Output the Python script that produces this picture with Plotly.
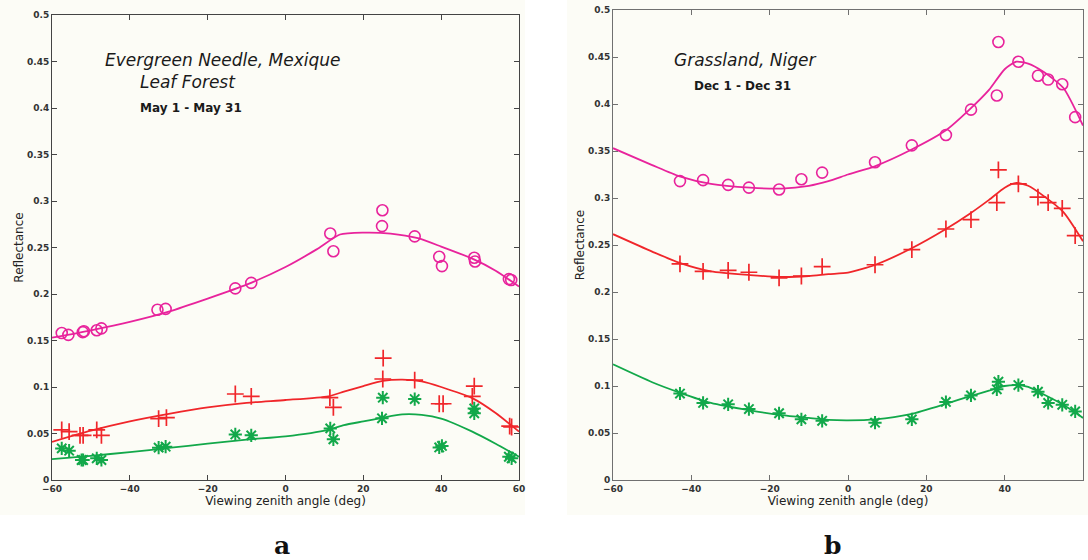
import plotly.graph_objects as go

# ---------------- Panel a: Evergreen Needle, Leaf Forest (Mexique) ----------------
a_circ_x = [-57.5, -55.8, -52.1, -51.8, -48.5, -47.3, -32.9, -30.8, -12.9, -8.8,
            11.5, 12.3, 24.9, 24.8, 33.2, 39.5, 40.2, 48.5, 48.7, 57.4, 58.0]
a_circ_y = [0.158, 0.156, 0.159, 0.160, 0.161, 0.163, 0.183, 0.184, 0.206, 0.212,
            0.265, 0.246, 0.290, 0.273, 0.262, 0.240, 0.230, 0.239, 0.235, 0.216, 0.215]

a_plus_x = [-57.5, -55.6, -52.8, -52.0, -48.5, -47.3, -32.6, -30.6, -12.9, -8.8,
            11.4, 12.3, 25.1, 25.0, 33.2, 39.5, 40.5, 48.5, 48.0, 57.6, 58.1]
a_plus_y = [0.054, 0.052, 0.048, 0.048, 0.054, 0.048, 0.066, 0.067, 0.0925, 0.090,
            0.0885, 0.078, 0.131, 0.1086, 0.1075, 0.082, 0.082, 0.101, 0.090, 0.058, 0.057]

a_star_x = [-57.5, -55.6, -52.4, -52.0, -48.5, -47.3, -32.6, -30.8, -12.9, -8.8,
            11.5, 12.3, 25.0, 24.8, 33.2, 39.5, 40.2, 48.5, 48.5, 57.4, 58.1]
a_star_y = [0.034, 0.0315, 0.0215, 0.0215, 0.0233, 0.0215, 0.0348, 0.0358, 0.049, 0.048,
            0.0555, 0.0437, 0.0885, 0.0663, 0.087, 0.035, 0.0366, 0.077, 0.0717, 0.025, 0.0233]

a_fit_x = [-60, -50, -40, -30, -20, -10, 0, 8, 14, 20, 27, 34, 40, 48, 54, 60]
a_fit_mag = [0.153, 0.161, 0.170, 0.181, 0.195, 0.210, 0.229, 0.248, 0.264, 0.266,
             0.265, 0.260, 0.251, 0.238, 0.225, 0.208]
a_fit_x2 = [-60, -50, -40, -30, -20, -10, 0, 11, 15, 20, 25, 30, 35, 40, 48, 54, 60]
a_fit_red = [0.041, 0.053, 0.063, 0.071, 0.078, 0.083, 0.086, 0.090, 0.095, 0.101,
             0.1065, 0.108, 0.106, 0.100, 0.088, 0.072, 0.052]
a_fit_grn = [0.0225, 0.026, 0.030, 0.0345, 0.039, 0.0435, 0.047, 0.054, 0.059, 0.063,
             0.067, 0.0705, 0.070, 0.066, 0.052, 0.039, 0.025]

# ---------------- Panel b: Grassland, Niger ----------------
b_x = [-42.9, -37.0, -30.6, -25.3, -17.6, -11.9, -6.6, 6.9, 16.3, 25.0, 31.4,
       38.0, 38.4, 43.5, 48.5, 51.1, 54.7, 58.0]
b_circ_y = [0.318, 0.319, 0.314, 0.311, 0.309, 0.320, 0.327, 0.338, 0.356, 0.367, 0.394,
            0.409, 0.466, 0.445, 0.430, 0.426, 0.421, 0.386]
b_plus_y = [0.230, 0.222, 0.223, 0.221, 0.215, 0.217, 0.227, 0.229, 0.245, 0.267, 0.277,
            0.295, 0.330, 0.315, 0.301, 0.295, 0.289, 0.260]
b_star_y = [0.092, 0.082, 0.0805, 0.0755, 0.071, 0.0645, 0.063, 0.061, 0.0645, 0.083, 0.090,
            0.0965, 0.1046, 0.101, 0.094, 0.082, 0.080, 0.073]

b_fit_x = [-60, -50, -43, -35, -25, -17, -10, -5, 0, 7, 16, 25, 31, 36, 40, 43, 46, 50, 55, 60]
b_fit_mag = [0.353, 0.335, 0.323, 0.315, 0.311, 0.310, 0.313, 0.318, 0.325, 0.334, 0.351,
             0.372, 0.394, 0.415, 0.437, 0.445, 0.443, 0.434, 0.417, 0.377]
b_fit_red = [0.2615, 0.243, 0.231, 0.222, 0.218, 0.216, 0.217, 0.219, 0.2205, 0.229, 0.246,
             0.267, 0.283, 0.298, 0.311, 0.316, 0.313, 0.302, 0.285, 0.254]
b_fit_grn = [0.123, 0.104, 0.093, 0.082, 0.074, 0.069, 0.066, 0.064, 0.0635, 0.0645, 0.070,
             0.081, 0.089, 0.095, 0.100, 0.101, 0.099, 0.091, 0.080, 0.066]

x_ticks = [-60, -40, -20, 0, 20, 40, 60]
y_ticks = [0, 0.05, 0.1, 0.15, 0.2, 0.25, 0.3, 0.35, 0.4, 0.45, 0.5]
y_tick_text = ["0", "0.05", "0.1", "0.15", "0.2", "0.25", "0.3", "0.35", "0.4", "0.45", "0.5"]

MAG = "#e8239c"
RED = "#f0262a"
GRN = "#12a84a"
PANEL_BG = "#fcfcf6"

fig = go.Figure()


def add_panel(xa, ya, cx, cy, px, py, sx, sy, fx_m, fm, fx_r, fr, fx_g, fg):
    for fx, fy, col in ((fx_m, fm, MAG), (fx_r, fr, RED), (fx_g, fg, GRN)):
        fig.add_trace(go.Scatter(x=fx, y=fy, mode="lines",
                                 line=dict(color=col, width=1.8, shape="spline", smoothing=0.6),
                                 xaxis=xa, yaxis=ya, showlegend=False))
    fig.add_trace(go.Scatter(x=cx, y=cy, mode="markers",
                             marker=dict(symbol="circle-open", size=11, color=MAG, line=dict(width=1.6, color=MAG)),
                             xaxis=xa, yaxis=ya, showlegend=False))
    fig.add_trace(go.Scatter(x=px, y=py, mode="markers",
                             marker=dict(symbol="cross-thin-open", size=12, color=RED, line=dict(width=1.7, color=RED)),
                             xaxis=xa, yaxis=ya, showlegend=False))
    fig.add_trace(go.Scatter(x=sx, y=sy, mode="markers",
                             marker=dict(symbol="asterisk-open", size=11, color=GRN, line=dict(width=2, color=GRN)),
                             xaxis=xa, yaxis=ya, showlegend=False))


add_panel("x", "y", a_circ_x, a_circ_y, a_plus_x, a_plus_y, a_star_x, a_star_y,
          a_fit_x, a_fit_mag, a_fit_x2, a_fit_red, a_fit_x2, a_fit_grn)
add_panel("x2", "y2", b_x, b_circ_y, b_x, b_plus_y, b_x, b_star_y,
          b_fit_x, b_fit_mag, b_fit_x, b_fit_red, b_fit_x, b_fit_grn)


def axis_style(line_col, is_x):
    tick_font = dict(family="DejaVu Sans", size=9, color="#333333", weight="bold")
    title_font = dict(family="DejaVu Sans", size=12, color="#222222")
    d = dict(ticks="inside", ticklen=5, tickcolor=line_col, showline=True, linecolor=line_col,
             linewidth=1, mirror="ticks", showgrid=False, zeroline=False, tickfont=tick_font,
             automargin=False)
    if is_x:
        d.update(range=[-60, 60], tickvals=x_ticks,
                 title=dict(text="Viewing zenith angle (deg)", font=title_font, standoff=0))
    else:
        d.update(range=[0, 0.5], tickvals=y_ticks, ticktext=y_tick_text,
                 title=dict(text="Reflectance", font=title_font, standoff=0))
    return d


fig.update_layout(
    width=1088, height=560,
    margin=dict(l=0, r=0, t=0, b=0),
    paper_bgcolor="white",
    plot_bgcolor="rgba(0,0,0,0)",
    xaxis=dict(domain=[52 / 1088, 519 / 1088], anchor="y", **axis_style("#444444", True)),
    yaxis=dict(domain=[80 / 560, 545 / 560], anchor="x", **axis_style("#444444", False)),
    xaxis2=dict(domain=[613 / 1088, 1083 / 1088], anchor="y2", **axis_style("#707070", True)),
    yaxis2=dict(domain=[80 / 560, 550 / 560], anchor="x2", **axis_style("#707070", False)),
    shapes=[
        dict(type="rect", xref="paper", yref="paper", x0=0, x1=525 / 1088, y0=45 / 560, y1=1,
             fillcolor=PANEL_BG, line=dict(width=0), layer="below"),
        dict(type="rect", xref="paper", yref="paper", x0=567 / 1088, x1=1, y0=45 / 560, y1=1,
             fillcolor=PANEL_BG, line=dict(width=0), layer="below"),
    ],
)

ital = dict(family="DejaVu Sans", size=17, color="#1a1a1a")
date_font = dict(family="DejaVu Sans", size=12, color="#1a1a1a", weight="bold")

annots = [
    dict(x=-46.9, y=0.4515, xref="x", yref="y", text="<i>Evergreen Needle, Mexique</i>",
         font=ital, xanchor="left", yanchor="middle", showarrow=False),
    dict(x=-38.0, y=0.4285, xref="x", yref="y", text="<i>Leaf Forest</i>",
         font=ital, xanchor="left", yanchor="middle", showarrow=False),
    dict(x=-38.0, y=0.400, xref="x", yref="y", text="May 1 - May 31",
         font=date_font, xanchor="left", yanchor="middle", showarrow=False),
    dict(x=-45.0, y=0.447, xref="x2", yref="y2", text="<i>Grassland, Niger</i>",
         font=ital, xanchor="left", yanchor="middle", showarrow=False),
    dict(x=-39.9, y=0.419, xref="x2", yref="y2", text="Dec 1 - Dec 31",
         font=date_font, xanchor="left", yanchor="middle", showarrow=False),
    dict(x=282 / 1088, y=(560 - 545) / 560, xref="paper", yref="paper", text="<b>a</b>",
         font=dict(family="DejaVu Serif", size=25, color="#111"), showarrow=False,
         xanchor="center", yanchor="middle"),
    dict(x=832 / 1088, y=(560 - 545) / 560, xref="paper", yref="paper", text="<b>b</b>",
         font=dict(family="DejaVu Serif", size=25, color="#111"), showarrow=False,
         xanchor="center", yanchor="middle"),
]
fig.update_layout(annotations=annots)

fig.write_html("out.html")
